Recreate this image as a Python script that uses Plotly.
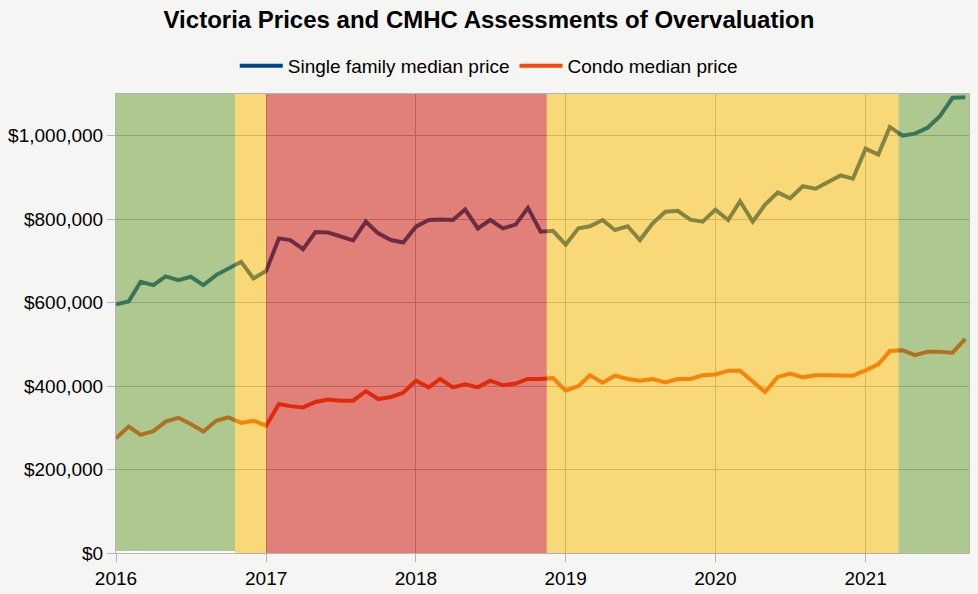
import plotly.graph_objects as go
import pandas as pd

# Monthly dates Jan 2016 .. Sep 2021
months = [d.strftime("%Y-%m-%d") for d in pd.date_range("2016-01-01", "2021-09-01", freq="MS")]

single_family = [
    596, 603, 650, 642, 663, 654, 662, 642, 666, 682, 698, 658,
    676, 754, 750, 728, 769, 768, 758, 749, 794, 766, 750, 744,
    782, 798, 799, 798, 823, 778, 798, 778, 787, 827, 770, 772,
    739, 778, 783, 798, 774, 783, 750, 790, 818, 820, 799, 794,
    823, 798, 843, 794, 835, 864, 850, 879, 873, 888, 905, 897,
    969, 955, 1021, 1000, 1005, 1019, 1047, 1091, 1092,
]
single_family = [v * 1000 for v in single_family]

condo = [
    275, 303, 283, 292, 315, 324, 309, 291, 317, 325, 312, 317,
    305, 357, 352, 349, 362, 368, 365, 365, 388, 369, 374, 384,
    413, 397, 417, 397, 404, 397, 413, 402, 406, 417, 417, 419,
    389, 400, 426, 408, 425, 417, 413, 417, 409, 417, 417, 426,
    428, 437, 437, 410, 386, 422, 430, 421, 426, 426, 425, 425,
    438, 452, 484, 486, 474, 482, 482, 480, 513,
]
condo = [v * 1000 for v in condo]

# CMHC assessment periods (start, end, level)
band_starts = ["2016-01-01", "2016-10-17", "2017-01-01", "2018-11-16", "2021-03-22"]
band_ends = ["2016-10-17", "2017-01-01", "2018-11-16", "2021-03-22", "2021-09-10"]
band_levels = ["low", "moderate", "high", "moderate", "low"]

year_ticks = ["2016-01-01", "2017-01-01", "2018-01-01", "2019-01-01", "2020-01-01", "2021-01-01"]
year_labels = ["2016", "2017", "2018", "2019", "2020", "2021"]
price_ticks = [0, 200000, 400000, 600000, 800000, 1000000]
price_labels = ["$0", "$200,000", "$400,000", "$600,000", "$800,000", "$1,000,000"]

level_colors = {"low": "rgb(105,156,51)", "moderate": "rgb(244,186,8)", "high": "rgb(200,24,11)"}

fig = go.Figure()
fig.add_trace(go.Scatter(x=months, y=single_family, mode="lines",
                         name="Single family median price",
                         line=dict(color="#004586", width=4)))
fig.add_trace(go.Scatter(x=months, y=condo, mode="lines",
                         name="Condo median price",
                         line=dict(color="#ff420e", width=4)))

for i, (s, e, lvl) in enumerate(zip(band_starts, band_ends, band_levels)):
    fig.add_shape(type="rect", xref="x", yref="y", x0=s, x1=e,
                  y0=5000 if i == 0 else 0, y1=1100000,
                  fillcolor=level_colors[lvl], opacity=0.55,
                  line=dict(width=0), layer="above")

fig.update_layout(
    width=978, height=594,
    paper_bgcolor="#f5f5f3", plot_bgcolor="#ffffff",
    margin=dict(l=116, r=9, t=94, b=41),
    font=dict(family="Liberation Sans, Arial, sans-serif", size=19, color="#000000"),
    title=dict(text="<b>Victoria Prices and CMHC Assessments of Overvaluation</b>",
               x=0.5, xanchor="center", y=0.967, yanchor="middle",
               font=dict(size=24, color="#000000")),
    legend=dict(orientation="h", x=0.437, xanchor="center", y=1.061, yanchor="middle",
                font=dict(size=19), bgcolor="rgba(0,0,0,0)", itemwidth=43,
                tracegroupgap=0),
    showlegend=True,
)
fig.update_xaxes(
    type="date", range=["2016-01-01", "2021-09-10"],
    tickvals=year_ticks, ticktext=year_labels,
    ticks="outside", ticklen=8, tickcolor="#b3b3b3",
    showgrid=True, gridcolor="#b3b3b3", gridwidth=1,
    showline=True, linecolor="#b3b3b3", linewidth=1, mirror=True,
    zeroline=False, tickfont=dict(size=19), automargin=False,
)
fig.update_yaxes(
    range=[0, 1100000],
    tickvals=price_ticks, ticktext=price_labels,
    ticks="outside", ticklen=8, tickcolor="#b3b3b3",
    showgrid=True, gridcolor="#b3b3b3", gridwidth=1,
    showline=True, linecolor="#b3b3b3", linewidth=1, mirror=True,
    zeroline=False, tickfont=dict(size=19), automargin=False,
)

fig.write_html("out.html", config={"displayModeBar": False},
               post_script="document.body.style.margin='0';")
